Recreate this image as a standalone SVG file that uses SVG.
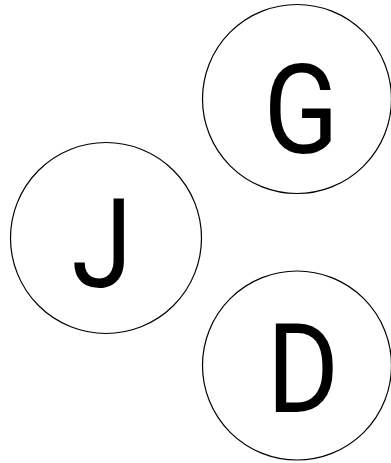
<svg xmlns="http://www.w3.org/2000/svg" width="391" height="463" viewBox="0 0 391 463">
<style>
.node circle{fill:#fff;stroke:#000;stroke-width:1.2}
.node text{font-family:Roboto,"Liberation Sans",sans-serif;font-size:124px;fill:#000;text-anchor:middle}
</style>
<rect width="391" height="463" fill="#fff"/>
<g id="connectors"></g>
<g id="G" class="node"><circle cx="297" cy="99" r="94.5"/><text transform="translate(301,153) scale(0.89,1)">G</text></g>
<g id="J" class="node"><circle cx="106" cy="238" r="95.5"/><text transform="translate(102,287) scale(0.89,1)">J</text></g>
<g id="D" class="node"><circle cx="297" cy="365.5" r="94.5"/><text transform="translate(303,412) scale(0.89,1)">D</text></g>
</svg>
